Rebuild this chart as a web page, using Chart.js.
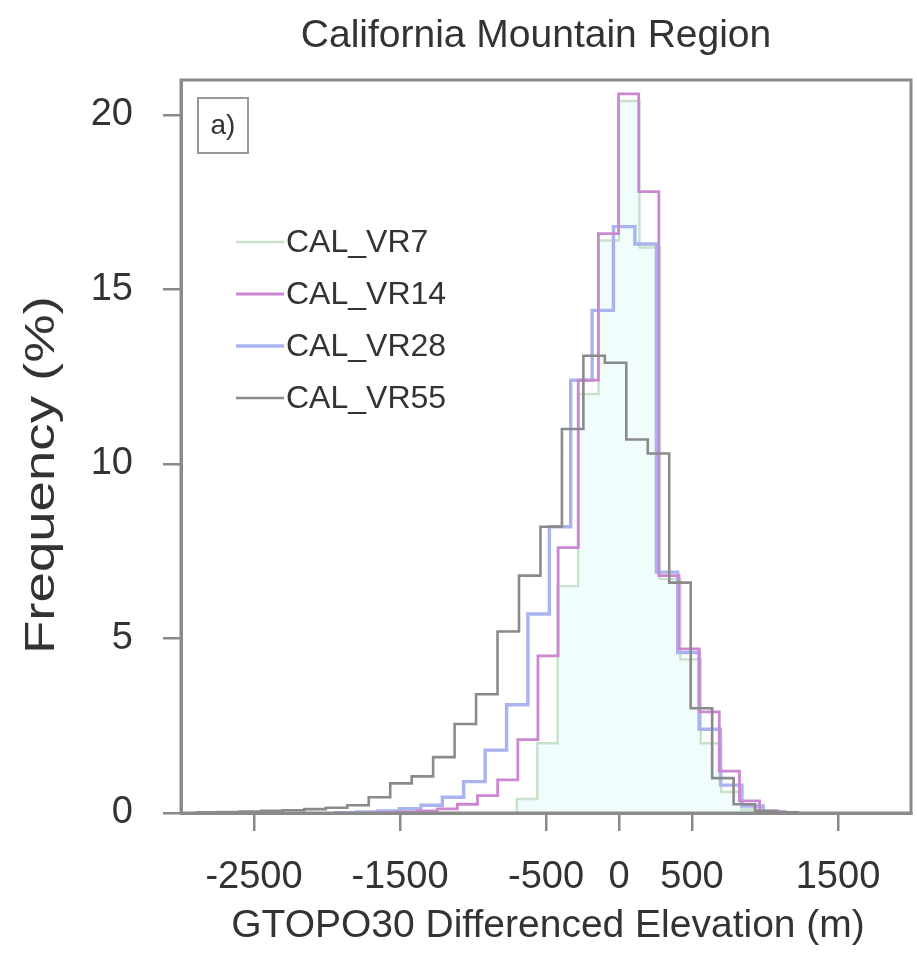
<!DOCTYPE html>
<html>
<head>
<meta charset="utf-8">
<script src="https://cdn.jsdelivr.net/npm/chart.js@4/dist/chart.umd.min.js"></script>
<style>
  html, body { margin: 0; padding: 0; background: #ffffff; }
  #wrap { width: 917px; height: 956px; }
</style>
</head>
<body>
<div id="wrap"><canvas id="c" width="917" height="956"></canvas></div>
<script>
// ---- data (bin edges in m, frequencies in %) ----
const seriesNames = ["CAL_VR7", "CAL_VR14", "CAL_VR28", "CAL_VR55"];

const vr7Edges  = [-700, -560, -420, -280, -140, 0, 140, 280, 420, 560, 700, 840, 980];
const vr7Values = [0.4, 2.0, 6.5, 12.0, 16.4, 20.4, 16.2, 6.7, 4.4, 2.0, 0.6, 0.1];

const vr14Edges  = [-1659, -1521, -1383, -1245, -1107, -969, -831, -693, -555, -417, -279, -141, -3, 135, 273, 411, 549, 687, 825, 963, 1101];
const vr14Values = [0.01, 0.03, 0.06, 0.12, 0.25, 0.5, 0.95, 2.1, 4.5, 7.6, 12.4, 16.6, 20.6, 17.8, 6.8, 4.7, 2.9, 1.2, 0.35, 0.05];

const vr28Edges  = [-1943, -1797, -1650, -1504, -1357, -1210, -1064, -917, -770, -624, -477, -331, -184, -38, 109, 256, 402, 549, 695, 842, 988, 1135];
const vr28Values = [0.01, 0.03, 0.06, 0.12, 0.22, 0.45, 0.9, 1.8, 3.1, 5.7, 8.2, 12.4, 14.4, 16.8, 16.3, 6.9, 4.6, 2.4, 0.8, 0.2, 0.04];

const vr55Edges  = [-2890, -2743, -2596, -2449, -2302, -2155, -2008, -1861, -1714, -1567, -1420, -1273, -1126, -979, -832, -685, -538, -391, -244, -97, 50, 197, 344, 491, 638, 785, 932, 1079, 1226];
const vr55Values = [0.02, 0.03, 0.04, 0.06, 0.08, 0.11, 0.15, 0.22, 0.45, 0.85, 1.05, 1.6, 2.55, 3.4, 5.2, 6.8, 8.2, 11.0, 13.1, 12.9, 10.7, 10.3, 6.6, 3.0, 1.0, 0.25, 0.06, 0.02];

const xTickValues = [-2500, -1500, -500, 0, 500, 1500];
const yTickValues = [0, 5, 10, 15, 20];

const titleText = "California Mountain Region";
const xTitleText = "GTOPO30 Differenced Elevation (m)";
const yTitleText = "Frequency (%)";
const panelLabel = "a)";

// ---- styling ----
const FONT = "'Liberation Sans', Arial, Helvetica, sans-serif";
const TEXT = "#333333";
const AXIS = "#8a8a8a";
const colors = ["#c6e2ca", "#cc86d2", "#a9b3ef", "#8a8a8a"];
const widths = [2.4, 2.8, 3.4, 2.6];

function stepPoints(edges, values) {
  const pts = [{ x: edges[0], y: 0 }];
  for (let i = 0; i < values.length; i++) pts.push({ x: edges[i], y: values[i] });
  pts.push({ x: edges[values.length], y: 0 });
  return pts;
}

const allEdges = [vr7Edges, vr14Edges, vr28Edges, vr55Edges];
const allValues = [vr7Values, vr14Values, vr28Values, vr55Values];
const drawOrder = [3, 1, 2, 0];

const datasets = seriesNames.map((name, i) => ({
  label: name,
  data: stepPoints(allEdges[i], allValues[i]),
  stepped: true,
  borderColor: colors[i],
  borderWidth: widths[i],
  backgroundColor: i === 0 ? "rgba(220,247,247,0.4)" : "rgba(0,0,0,0)",
  fill: i === 0 ? "origin" : false,
  pointRadius: 0,
  borderJoinStyle: "miter",
  borderCapStyle: "butt",
  order: drawOrder[i]
}));

const decor = {
  id: "decor",
  afterDraw(chart) {
    const ctx = chart.ctx;
    const a = chart.chartArea;
    ctx.save();
    // frame
    ctx.strokeStyle = AXIS;
    ctx.lineWidth = 3;
    ctx.strokeRect(a.left, a.top, a.right - a.left, a.bottom - a.top);

    // title
    ctx.fillStyle = TEXT;
    ctx.textAlign = "center";
    ctx.textBaseline = "middle";
    ctx.font = "39px " + FONT;
    ctx.fillText(titleText, 536, 36);
    // x title
    ctx.font = "39px " + FONT;
    ctx.fillText(xTitleText, 548, 926);
    // y title
    ctx.save();
    ctx.translate(42, 475);
    ctx.rotate(-Math.PI / 2);
    ctx.scale(1.3, 1);
    ctx.font = "42px " + FONT;
    ctx.fillText(yTitleText, 0, 0);
    ctx.restore();

    // panel label box
    ctx.lineWidth = 2;
    ctx.strokeStyle = "#999999";
    ctx.strokeRect(198, 98, 50, 55);
    ctx.font = "28px " + FONT;
    ctx.fillStyle = TEXT;
    ctx.fillText(panelLabel, 223, 126);

    // legend
    const rows = [242, 294, 346, 398];
    ctx.textAlign = "left";
    ctx.font = "32px " + FONT;
    seriesNames.forEach((name, i) => {
      ctx.strokeStyle = colors[i];
      ctx.lineWidth = widths[i];
      ctx.beginPath();
      ctx.moveTo(236, rows[i]);
      ctx.lineTo(284, rows[i]);
      ctx.stroke();
      ctx.fillStyle = TEXT;
      ctx.fillText(name, 286, rows[i] + 1);
    });
    ctx.restore();
  }
};

new Chart(document.getElementById("c"), {
  type: "line",
  data: { datasets },
  options: {
    responsive: false,
    animation: false,
    layout: { padding: { top: 80, right: 6, left: 0, bottom: 0 } },
    plugins: {
      legend: { display: false },
      title: { display: false },
      tooltip: { enabled: false }
    },
    scales: {
      x: {
        type: "linear",
        min: -3000,
        max: 2000,
        afterBuildTicks: s => { s.ticks = xTickValues.map(v => ({ value: v })); },
        afterFit: s => { s.height = 143; },
        ticks: {
          autoSkip: false,
          maxRotation: 0,
          padding: 24,
          color: TEXT,
          font: { family: FONT, size: 38 },
          callback: v => String(v)
        },
        grid: { drawOnChartArea: false, drawTicks: true, tickLength: 18, color: AXIS, lineWidth: 2.5 },
        border: { display: true, color: AXIS, width: 3 }
      },
      y: {
        type: "linear",
        min: 0,
        max: 21,
        afterBuildTicks: s => { s.ticks = yTickValues.map(v => ({ value: v })); },
        afterFit: s => { s.width = 181; },
        ticks: {
          padding: 30,
          color: TEXT,
          font: { family: FONT, size: 38 },
          callback: v => String(v)
        },
        grid: { drawOnChartArea: false, drawTicks: true, tickLength: 18, color: AXIS, lineWidth: 2.5 },
        border: { display: true, color: AXIS, width: 3 }
      }
    }
  },
  plugins: [decor]
});
</script>
</body>
</html>
